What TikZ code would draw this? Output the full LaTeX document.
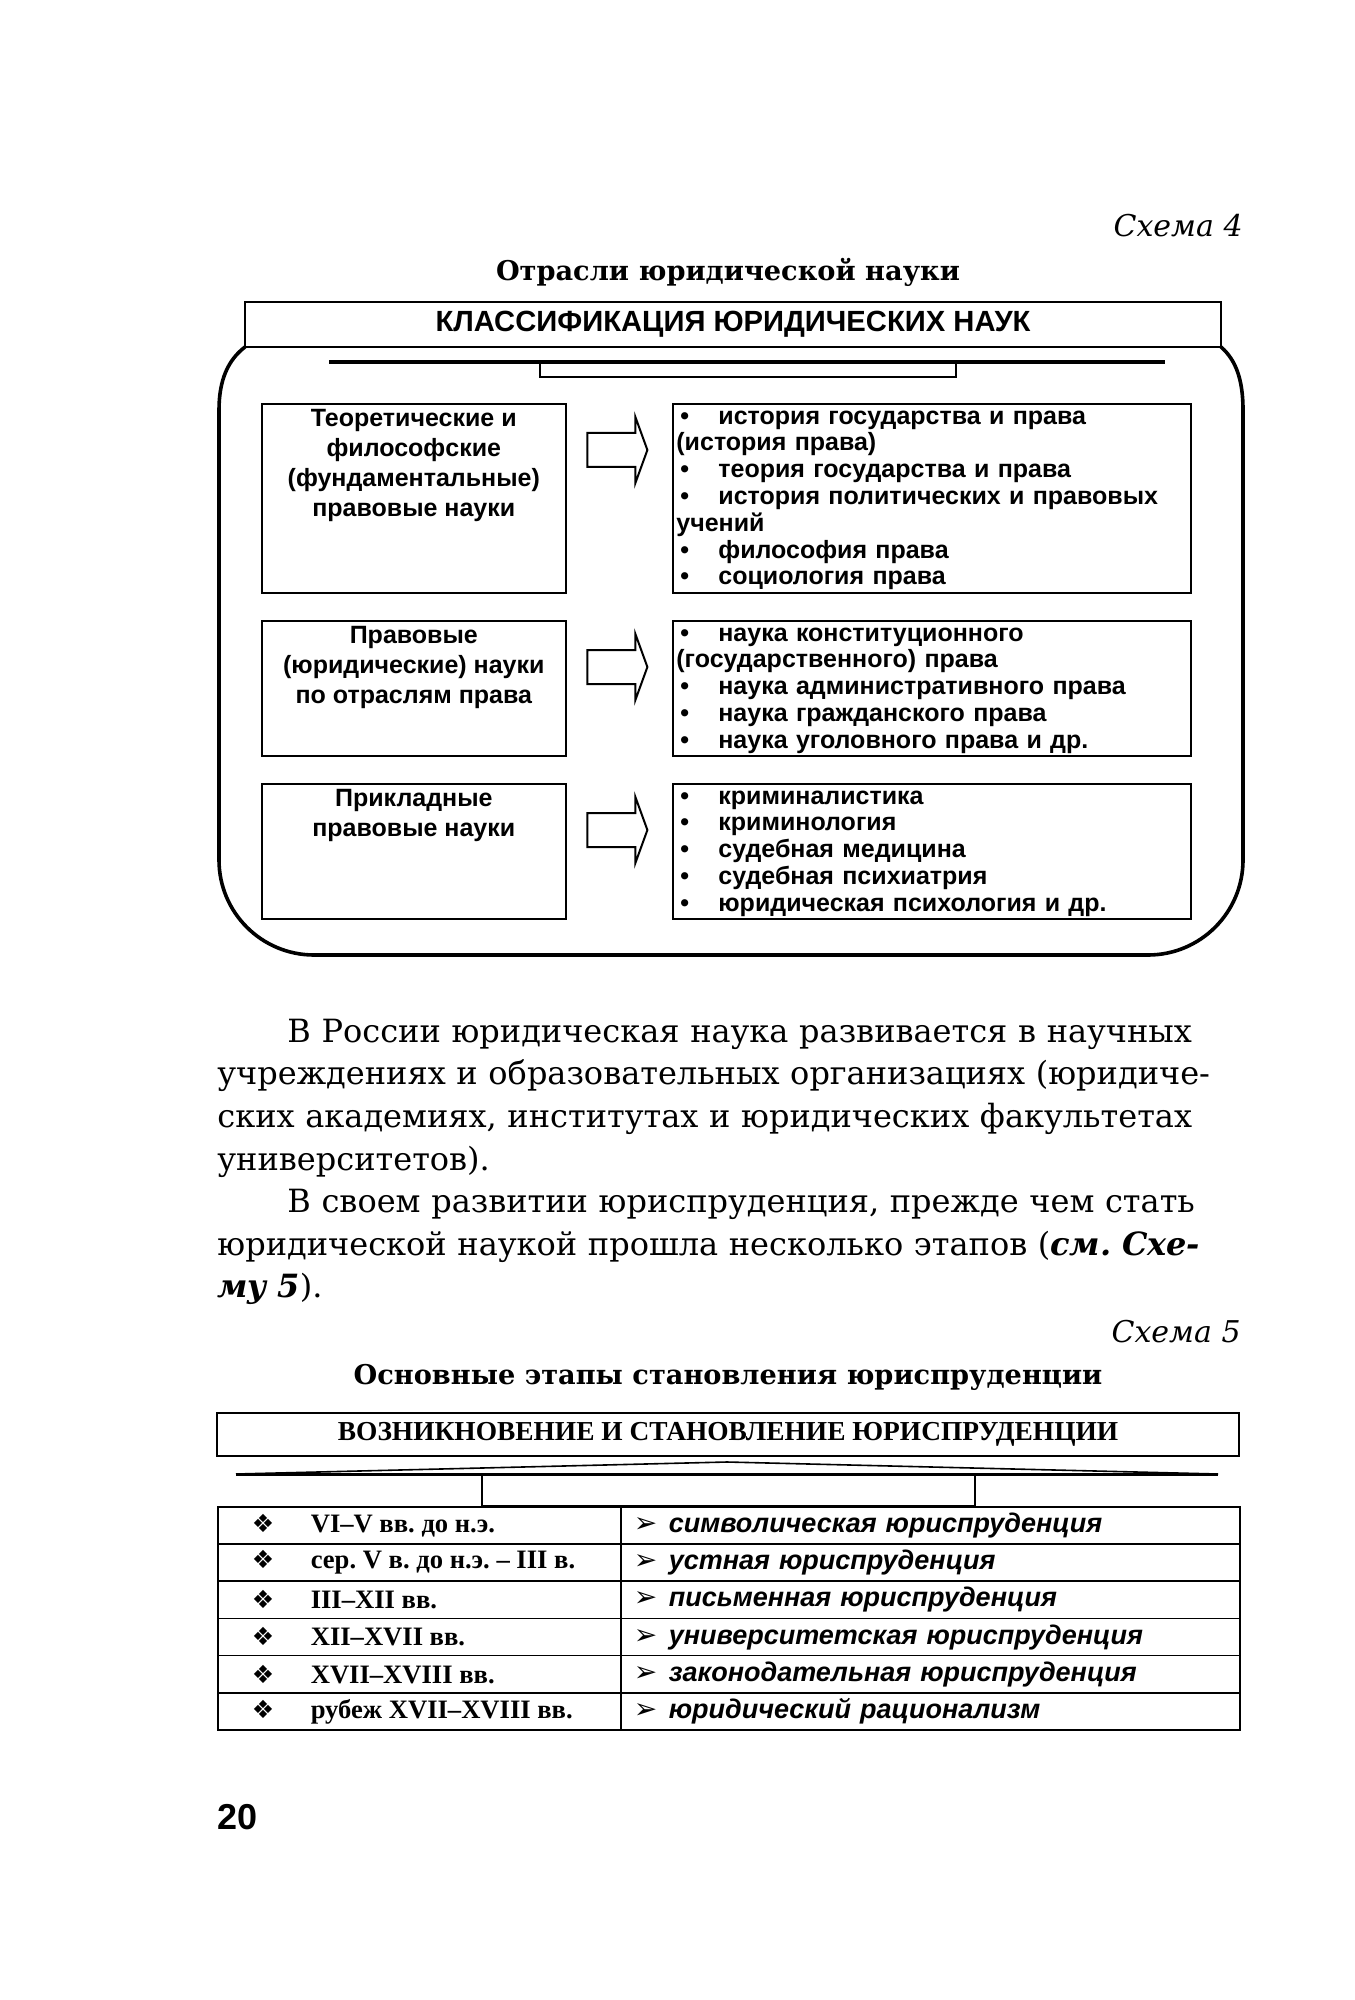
\documentclass[tikz,border=0pt]{standalone}
\usepackage{fontspec}
\setmainfont{DejaVu Serif}
\setsansfont{Liberation Sans}
\newfontfamily\timesfont{Liberation Serif}
\newfontfamily\symfont{DejaVu Sans}
\usetikzlibrary{positioning,calc,shapes.arrows}
\frenchspacing

\newcommand\lbul{\makebox[21pt][l]{\hspace{2pt}\textbullet}}
\newcommand\lozs{\makebox[29.5pt][l]{\symfont\mdseries\upshape\fontsize{12.5}{12}\selectfont ❖}}
\newcommand\arrs{\makebox[17.5pt][l]{\symfont\mdseries\upshape\fontsize{14}{12}\selectfont ➢}}
\newcommand\pertext[1]{\makebox[167.5pt][l]{\lozs #1}}

\begin{document}
\begin{tikzpicture}[x=0.5pt, y=-0.5pt,
  schemelabel/.style={font=\itshape\fontsize{15}{18}\selectfont, anchor=east, inner sep=0pt},
  heading/.style={font=\bfseries\fontsize{13.6}{17}\selectfont, inner sep=0pt},
  headbox/.style={draw, line width=1pt, fill=white, inner sep=0pt},
  frame/.style={line width=1.8pt},
  catbox/.style={draw, line width=0.8pt, minimum width=152pt, inner sep=0pt, anchor=north west},
  listbox/.style={draw, line width=0.8pt, minimum width=259pt, inner sep=0pt, anchor=north west},
  cattext/.style={font=\sffamily\bfseries\fontsize{12.5}{15}\selectfont, align=center, inner sep=0pt},
  listtext/.style={font=\sffamily\bfseries\fontsize{12.5}{13.4}\selectfont, text width=251.5pt, align=left, inner sep=0pt},
  blockarr/.style={single arrow, draw, line width=1pt, inner xsep=0pt, inner ysep=8pt, minimum height=30pt, single arrow head extend=8pt, single arrow tip angle=140},
  percell/.style={draw, line width=0.8pt, anchor=north west, minimum width=201.5pt, minimum height=18.6pt, inner xsep=17pt, inner ysep=0pt, font=\timesfont\bfseries\fontsize{13.3}{15}\selectfont},
  kindcell/.style={draw, line width=0.8pt, anchor=north west, minimum width=309.5pt, minimum height=18.6pt, text width=296.5pt, inner xsep=6.5pt, inner ysep=0pt, align=left, font=\sffamily\bfseries\itshape\fontsize{13.5}{15}\selectfont}
]
\useasboundingbox (0,0) rectangle (1354,2000);

\node[schemelabel] (lbl4) at (1243,226) {Схема 4};
\node[heading] (ttl4) at (728,272) {Отрасли юридической науки};

\draw[frame, rounded corners=47.5pt] (219,410) -- (219,955) -- (1243,955) -- (1243,410);
\draw[frame] (245,347) .. controls (228,360) and (219,380) .. (219,410);
\draw[frame] (1221,347) .. controls (1236,360) and (1243,380) .. (1243,410);
\node[headbox, minimum width=488pt, minimum height=22.5pt, font=\sffamily\bfseries\fontsize{14.6}{16}\selectfont] (head4) at (733,324.5) {КЛАССИФИКАЦИЯ ЮРИДИЧЕСКИХ НАУК};
\draw[line width=2pt] (329,362) -- (1165,362);
\draw[line width=1pt] (540,362) rectangle (956,377);

\node[catbox, minimum height=94.5pt] (theo) at (261,403) {};
\node[listbox, minimum height=94.5pt] (theolist) at (672,403) {};
\node[cattext, below=1pt of theo.north] (theotxt) {\strut Теоретические и\\философские\\(фундаментальные)\\правовые науки};
\node[listtext, below right=1pt and 2pt of theolist.north west] (theoitems) {\strut\lbul история государства и права\\
(история права)\\
\lbul теория государства и права\\
\lbul\makebox[230.5pt][s]{история политических и правовых}\\
учений\\
\lbul философия права\\
\lbul социология права};
\node[blockarr] (arr1) at ($(theo.north east)!0.5!(theolist.north west) + (-5,47)$) {};

\node[catbox, minimum height=67.5pt] (branch) at (261,620) {};
\node[listbox, minimum height=67.5pt] (branchlist) at (672,620) {};
\node[cattext, below=1pt of branch.north] (branchtxt) {\strut Правовые\\(юридические) науки\\по отраслям права};
\node[listtext, below right=1pt and 2pt of branchlist.north west] (branchitems) {\strut\lbul наука конституционного\\
(государственного) права\\
\lbul наука административного права\\
\lbul наука гражданского права\\
\lbul наука уголовного права и др.};
\node[blockarr] (arr2) at ($(branch.north east)!0.5!(branchlist.north west) + (-5,47)$) {};

\node[catbox, minimum height=67.5pt] (appl) at (261,783) {};
\node[listbox, minimum height=67.5pt] (appllist) at (672,783) {};
\node[cattext, below=1pt of appl.north] (appltxt) {\strut Прикладные\\правовые науки};
\node[listtext, below right=1pt and 2pt of appllist.north west] (applitems) {\strut\lbul криминалистика\\
\lbul криминология\\
\lbul судебная медицина\\
\lbul судебная психиатрия\\
\lbul юридическая психология и др.};
\node[blockarr] (arr3) at ($(appl.north east)!0.5!(appllist.north west) + (-5,47)$) {};

\node[anchor=north west, inner sep=0pt, text width=512pt, font=\fontsize{16}{21.3}\selectfont] (para) at (217,1012) {\setlength\parindent{0pt}%
\hspace*{35pt}\makebox[477pt][s]{\strut В России юридическая наука развивается в научных}\par
\makebox[512pt][s]{учреждениях и образовательных организациях (юридиче-}\par
\makebox[512pt][s]{ских академиях, институтах и юридических факультетах}\par
университетов).\par
\hspace*{35pt}\makebox[477pt][s]{В своем развитии юриспруденция, прежде чем стать}\par
\makebox[512pt][s]{юридической наукой прошла несколько этапов (\textbf{\textit{см. Схе-}}}\par
\textbf{\textit{му 5}}).};

\node[schemelabel] (lbl5) at (1241,1332) {Схема 5};
\node[heading] (ttl5) at (728,1377) {Основные этапы становления юриспруденции};
\node[headbox, minimum width=511pt, minimum height=21.5pt, font=\timesfont\bfseries\fontsize{13.7}{17}\selectfont] (head5) at (728,1434.5) {ВОЗНИКНОВЕНИЕ И СТАНОВЛЕНИЕ ЮРИСПРУДЕНЦИИ};
\draw[line width=1.5pt] (236,1474) -- (1218,1474);
\draw[line width=0.8pt] (236,1474) -- (727,1462) -- (1218,1474);
\draw[line width=1pt] (482,1474) rectangle (975,1506);

\node[percell] (per1) at (217,1506) {\pertext{VI–V вв. до н.э.}};
\node[kindcell] (kind1) at (620,1506) {\arrs символическая юриспруденция};
\node[percell] (per2) at (217,1543.2) {\pertext{сер. V в. до н.э. – III в.}};
\node[kindcell] (kind2) at (620,1543.2) {\arrs устная юриспруденция};
\node[percell] (per3) at (217,1580.4) {\pertext{III–XII вв.}};
\node[kindcell] (kind3) at (620,1580.4) {\arrs письменная юриспруденция};
\node[percell] (per4) at (217,1617.6) {\pertext{XII–XVII вв.}};
\node[kindcell] (kind4) at (620,1617.6) {\arrs университетская юриспруденция};
\node[percell] (per5) at (217,1654.8) {\pertext{XVII–XVIII вв.}};
\node[kindcell] (kind5) at (620,1654.8) {\arrs законодательная юриспруденция};
\node[percell] (per6) at (217,1692) {\pertext{рубеж XVII–XVIII вв.}};
\node[kindcell] (kind6) at (620,1692) {\arrs юридический рационализм};

\node[anchor=west, inner sep=0pt, font=\sffamily\bfseries\fontsize{18}{20}\selectfont] (pagenum) at (217,1817) {20};
\end{tikzpicture}
\end{document}
